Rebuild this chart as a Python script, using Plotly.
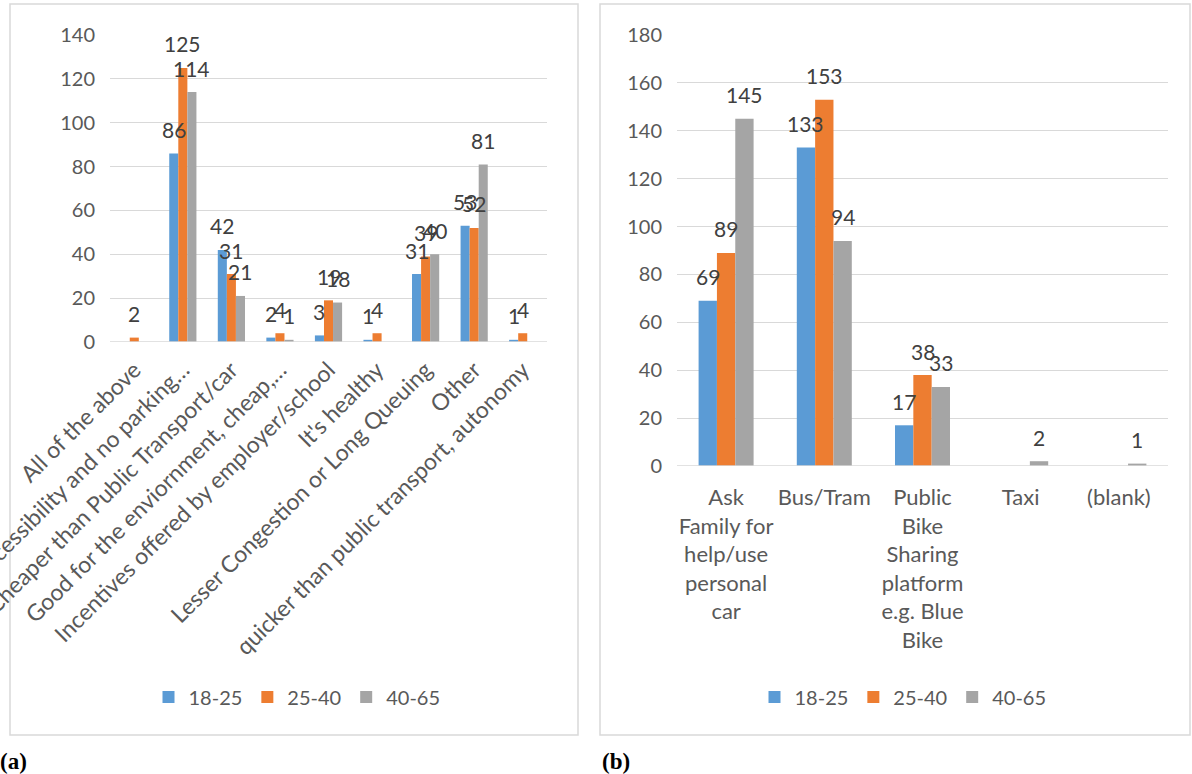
import plotly.graph_objects as go

# Panel (a)
cats_a = ["All of the above", "Accessibility and no parking…", "Cheaper than Public Transport/car",
          "Good for the enviornment, cheap,…", "Incentives offered by employer/school",
          "It's healthy", "Lesser Congestion or Long Queuing", "Other",
          "quicker than public transport, autonomy"]
a_18_25 = [None, 86, 42, 2, 3, 1, 31, 53, 1]
a_25_40 = [2, 125, 31, 4, 19, 4, 39, 52, 4]
a_40_65 = [None, 114, 21, 1, 18, None, 40, 81, None]

# Panel (b)
cats_b = ["Ask<br>Family for<br>help/use<br>personal<br>car", "Bus/Tram",
          "Public<br>Bike<br>Sharing<br>platform<br>e.g. Blue<br>Bike", "Taxi", "(blank)"]
b_18_25 = [69, 133, 17, None, None]
b_25_40 = [89, 153, 38, None, None]
b_40_65 = [145, 94, 33, 2, 1]

series = ["18-25", "25-40", "40-65"]
colors = ["#5B9BD5", "#ED7D31", "#A5A5A5"]

W, H = 1192, 774
FONT = "Lato, Liberation Sans, sans-serif"
BARGAP = 0.44

def px(x):
    return x / W

def py(y):
    return 1 - y / H

# plot-area pixel extents
A_X0, A_X1 = 110, 547
B_X0, B_X1 = 677, 1168

fig = go.Figure()
annotations = []

def add_panel(cats, data, xa, ya, leg, x0, x1):
    cat_px = (x1 - x0) / len(cats)
    bar_w = cat_px * (1 - BARGAP) / len(data)
    for i, (name, vals, col) in enumerate(zip(series, data, colors)):
        fig.add_trace(go.Bar(
            x=cats, y=vals, name=name, marker=dict(color=col, line=dict(width=0)),
            xaxis=xa, yaxis=ya, legend=leg))
        shift = (i - (len(data) - 1) / 2) * bar_w
        for c, v in zip(cats, vals):
            if v is None:
                continue
            annotations.append(dict(
                x=c, y=v, xref=xa, yref=ya, text=str(v), showarrow=False,
                xanchor="center", yanchor="middle", xshift=shift, yshift=24,
                font=dict(size=21, color="#404040", family=FONT)))

add_panel(cats_a, [a_18_25, a_25_40, a_40_65], "x", "y", "legend", A_X0, A_X1)
add_panel(cats_b, [b_18_25, b_25_40, b_40_65], "x2", "y2", "legend2", B_X0, B_X1)

annotations += [
    dict(text="<b>(a)</b>", xref="paper", yref="paper", x=px(-2), y=py(761), xanchor="left",
         yanchor="middle", showarrow=False,
         font=dict(family="Liberation Serif, DejaVu Serif, serif", size=23, color="black")),
    dict(text="<b>(b)</b>", xref="paper", yref="paper", x=px(600), y=py(761), xanchor="left",
         yanchor="middle", showarrow=False,
         font=dict(family="Liberation Serif, DejaVu Serif, serif", size=23, color="black")),
]

axis_common = dict(showline=False, zeroline=False, automargin=False)
ytick_font = dict(size=20, color="#595959", family=FONT)

fig.update_layout(
    width=W, height=H, autosize=False,
    margin=dict(l=0, r=0, t=0, b=0),
    paper_bgcolor="white", plot_bgcolor="white",
    barmode="group", bargap=BARGAP, bargroupgap=0,
    font=dict(family=FONT, color="#595959"),
    xaxis=dict(domain=[px(A_X0), px(A_X1)], anchor="y", tickangle=-45, showgrid=False,
               ticks="", ticklabelstandoff=9,
               tickfont=dict(size=23, color="#595959", family=FONT), **axis_common),
    yaxis=dict(domain=[py(342), py(35)], anchor="x", range=[0, 140], dtick=20,
               showgrid=True, gridcolor="#D9D9D9", gridwidth=1, ticks="",
               ticklabelstandoff=14, tickfont=ytick_font, **axis_common),
    xaxis2=dict(domain=[px(B_X0), px(B_X1)], anchor="y2", tickangle=0, showgrid=False,
                ticks="", ticklabelstandoff=16,
                tickfont=dict(size=22, color="#595959", family=FONT), **axis_common),
    yaxis2=dict(domain=[py(466), py(35)], anchor="x2", range=[0, 180], dtick=20,
                showgrid=True, gridcolor="#D9D9D9", gridwidth=1, ticks="",
                ticklabelstandoff=14, tickfont=ytick_font, **axis_common),
    legend=dict(orientation="h", x=px(297), xanchor="center", y=py(697), yanchor="middle",
                font=dict(size=20, color="#595959", family=FONT), itemwidth=30,
                bgcolor="rgba(0,0,0,0)", traceorder="normal"),
    legend2=dict(orientation="h", x=px(903), xanchor="center", y=py(697), yanchor="middle",
                 font=dict(size=20, color="#595959", family=FONT), itemwidth=30,
                 bgcolor="rgba(0,0,0,0)", traceorder="normal"),
    shapes=[
        dict(type="rect", xref="paper", yref="paper", x0=px(10), x1=px(578), y0=py(735), y1=py(4),
             line=dict(color="#D9D9D9", width=1.5), fillcolor="rgba(0,0,0,0)", layer="below"),
        dict(type="rect", xref="paper", yref="paper", x0=px(600), x1=px(1190), y0=py(735), y1=py(4),
             line=dict(color="#D9D9D9", width=1.5), fillcolor="rgba(0,0,0,0)", layer="below"),
        dict(type="line", xref="paper", yref="y", x0=px(A_X0), x1=px(A_X1), y0=0, y1=0,
             line=dict(color="#D9D9D9", width=1.5)),
        dict(type="line", xref="paper", yref="y2", x0=px(B_X0), x1=px(B_X1), y0=0, y1=0,
             line=dict(color="#D9D9D9", width=1.5)),
    ],
    annotations=annotations,
)

fig.write_html("out.html")
